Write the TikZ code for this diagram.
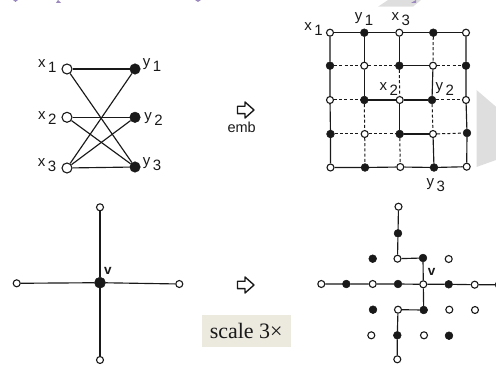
\documentclass[tikz,border=0pt]{standalone}
\usepackage{fontspec}
\setmainfont{Liberation Sans}
\newfontfamily\boxfont{Liberation Serif}
\usepackage{tikz}
\usetikzlibrary{positioning}
\definecolor{inkc}{gray}{0.1}
\definecolor{boxc}{HTML}{ECE9DF}
\definecolor{markc}{HTML}{9A88BE}
\definecolor{wmc}{gray}{0.87}
\newcommand{\sbx}[2]{#1\hspace{2.5pt}\raisebox{-5pt}{#2}}

\begin{document}
\begin{tikzpicture}[x=1pt, y=-1pt, font=\fontsize{15}{16}\selectfont, text=inkc,
  wn/.style={circle, draw=inkc, fill=white, line width=1.1pt, inner sep=0pt, minimum size=7pt},
  bn/.style={circle, draw=inkc, fill=inkc, line width=.5pt, inner sep=0pt, minimum size=7.8pt},
  wnb/.style={wn, minimum size=10pt}, bnb/.style={bn, minimum size=10.5pt}, bnc/.style={bn, minimum size=11pt},
  lab/.style={inner sep=0pt}, ln/.style={draw=inkc, line width=1.15pt}, dsh/.style={ln, line width=1pt, dash pattern=on 3pt off 2.2pt},
  blk/.style={draw=inkc, line width=1.4pt, fill=white, line join=round}, vlab/.style={lab, font=\fontsize{13.5}{14}\selectfont\bfseries}]
\useasboundingbox (0,0) rectangle (496,366);
% watermark
\fill[wmc] (378,6.7)--(388,0)--(421,0)--(413,6.7)--cycle;
\fill[wmc] (476.5,90)--(496,106.7)--(496,160)--(476.5,167)--cycle;
\fill[markc] (13,0)--(18,0)--(15.5,2)--cycle; \fill[markc] (56,3)--(58,0)--(61,3)--cycle; \fill[markc] (195,0)--(201,0)--(198,2)--cycle; \fill[markc] (411,3)--(416,0)--(416,3)--cycle;
% bipartite graph
\node[wnb] (x1) at (67,69) {}; \node[bnb] (y1) at (135,69) {};
\node[wnb] (x2) at (67,117.3) {}; \node[bnb] (y2) at (135,117.3) {};
\node[wnb] (x3) at (67,168) {}; \node[bnb] (y3) at (135,167) {};
\node[lab] (lx1) at (47.3,66) {\sbx{x}{1}}; \node[lab] (ly1) at (152,65) {\sbx{y}{1}};
\node[lab] (lx2) at (47.3,118) {\sbx{x}{2}}; \node[lab] (ly2) at (153.5,119) {\sbx{y}{2}};
\node[lab] (lx3) at (47,165) {\sbx{x}{3}}; \node[lab] (ly3) at (152,164) {\sbx{y}{3}};
\draw[ln] (x1)--(y1); \draw[ln] (x1)--(y3); \draw[ln] (x2)--(y2); \draw[ln] (x2)--(y3);
\draw[ln] (x3)--(y1); \draw[ln] (x3)--(y2); \draw[ln] (x3)--(y3);
\draw[blk, shift={(245.5,110)}] (-8,-3.7)--(-.5,-3.7)--(-.5,-8)--(8.5,0)--(-.5,8)--(-.5,3.7)--(-8,3.7)--cycle;
\node[lab, font=\fontsize{14.5}{15}\selectfont] (emb) at (241.7,127.3) {emb};
% grid embedding
\node[wn] (a1) at (330,32.7) {}; \node[bn] (a2) at (364.3,32.7) {}; \node[wn] (a3) at (399.3,32.7) {}; \node[bn] (a4) at (433.3,32.7) {}; \node[wn] (a5) at (466,32.7) {};
\node[bn] (b1) at (330,65.7) {}; \node[wn] (b2) at (364.3,65.7) {}; \node[bn] (b3) at (399.3,65.7) {}; \node[wn] (b4) at (433,65.7) {}; \node[bn] (b5) at (466,65.7) {};
\node[wn] (c1) at (330,100) {}; \node[bn] (c2) at (364.3,100) {}; \node[wn] (c3) at (399.7,100) {}; \node[bn] (c4) at (432,100) {}; \node[wn] (c5) at (466,100) {};
\node[bn] (d1) at (330.5,134) {}; \node[wn] (d2) at (364.7,134) {}; \node[bn] (d3) at (399.7,134) {}; \node[wn] (d4) at (433,134) {}; \node[bn] (d5) at (467,133) {};
\node[wn] (e1) at (330.5,167.5) {}; \node[bn] (e2) at (365,167.5) {}; \node[wn] (e3) at (400.3,167) {}; \node[bn] (e4) at (434,167.5) {}; \node[wn] (e5) at (466.7,166.7) {};
\node[lab] (lg1) at (313.5,29) {\sbx{x}{1}}; \node[lab] (lg2) at (364,19) {\sbx{y}{1}}; \node[lab] (lg3) at (400.7,19) {\sbx{x}{3}};
\node[lab] (lg4) at (388.7,89) {\sbx{x}{2}}; \node[lab] (lg5) at (444.7,89) {\sbx{y}{2}}; \node[lab] (lg6) at (435.7,185) {\sbx{y}{3}};
\draw[ln] (a1)--(a2)--(a3)--(a4)--(a5); \draw[ln] (e1)--(e2)--(e3)--(e4)--(e5);
\draw[ln] (a1)--(b1)--(c1)--(d1)--(e1); \draw[ln] (a5)--(b5)--(c5)--(d5)--(e5);
\draw[ln] (a2)--(b2)--(c2); \draw[ln] (a3)--(b3); \draw[ln] (c3)--(d3); \draw[ln] (b4)--(c4); \draw[ln] (d4)--(e4);
\draw[ln] (b3)--(b4); \draw[ln] (c2)--(c3)--(c4); \draw[ln] (d3)--(d4);
\draw[dsh] (c2)--(d2)--(e2); \draw[dsh] (b3)--(c3); \draw[dsh] (d3)--(e3); \draw[dsh] (a4)--(b4); \draw[dsh] (c4)--(d4);
\draw[dsh] (b1)--(b2)--(b3); \draw[dsh] (b4)--(b5); \draw[dsh] (c1)--(c2); \draw[dsh] (c4)--(c5); \draw[dsh] (d1)--(d2)--(d3); \draw[dsh] (d4)--(d5);
% star
\node[bnc] (v) at (100,282.7) {}; \node[wn] (st) at (100,207.3) {}; \node[wn] (sl) at (16.7,283.3) {};
\node[wn] (sr) at (179.3,284) {}; \node[wn] (sb) at (100,360) {};
\node[vlab] (lv) at (108,270.7) {v};
\draw[ln] (v)--(st); \draw[ln] (v)--(sl); \draw[ln] (v)--(sr); \draw[ln] (v)--(sb);
\draw[blk, shift={(245.5,285)}] (-8,-3.7)--(-.5,-3.7)--(-.5,-8)--(8.5,0)--(-.5,8)--(-.5,3.7)--(-8,3.7)--cycle;
\node[fill=boxc, minimum width=89pt, minimum height=32pt, inner sep=0pt, font=\boxfont\fontsize{22}{23}\selectfont] (scl) at (246.2,330.8) {scale 3×};
% embedded star
\node[wn] (p1) at (398.5,206.7) {}; \node[bn] (p2) at (398,233.3) {};
\node[bn] (q1) at (372.7,258.7) {}; \node[wn] (q2) at (397.5,258.7) {}; \node[bn] (q3) at (423,258) {}; \node[wn] (q4) at (448.7,259) {};
\node[wn] (r1) at (321.3,284) {}; \node[bn] (r2) at (346.3,284) {}; \node[wn] (r3) at (372.7,284) {}; \node[bn] (r4) at (398,284) {}; \node[wn] (r5) at (423.3,284.3) {}; \node[bn] (r6) at (448.7,284.3) {}; \node[wn] (r7) at (474.7,284.7) {}; \node[bn] (r8) at (499,284.7) {};
\node[bn] (s1) at (373,309.7) {}; \node[wn] (s2) at (398,309.7) {}; \node[bn] (s3) at (423.7,310) {}; \node[wn] (s4) at (449.3,309.7) {}; \node[wn] (s5) at (475,310) {};
\node[wn] (t1) at (371.3,335.3) {}; \node[bn] (t2) at (397.3,335.3) {}; \node[wn] (t3) at (424,335.3) {}; \node[bn] (t4) at (449,335.7) {};
\node[wn] (u1) at (397.3,359.3) {};
\node[vlab] (lv2) at (431.7,271.7) {v};
\draw[ln] (p1)--(p2)--(q2)--(q3)--(r5)--(s3)--(s2)--(t2)--(u1);
\draw[ln] (r1)--(r2)--(r3)--(r4)--(r5)--(r6)--(r7)--(r8);
\end{tikzpicture}
\end{document}
